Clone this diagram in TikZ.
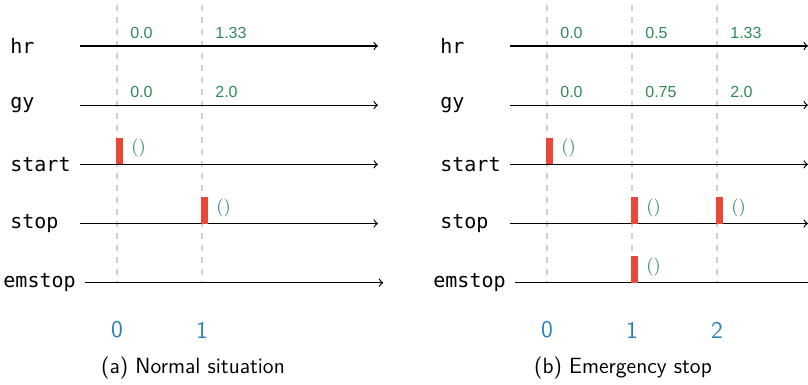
\documentclass[tikz,border=0pt]{standalone}
\usepackage{fontspec}
\setmonofont{DejaVu Sans Mono}
\newfontfamily\valfont{Liberation Sans}

\definecolor{evred}{RGB}{234,72,55}
\definecolor{valgreen}{RGB}{46,139,87}
\definecolor{tickblue}{RGB}{41,128,185}
\definecolor{gridgray}{RGB}{204,208,208}

\tikzset{
	sig/.style={font=\ttfamily, anchor=west, inner ysep=0pt, inner xsep=4.5pt},
	axis/.style={->, line width=0.6pt},
	instant/.style={draw=gridgray, dashed, line width=0.8pt},
	val/.style={font=\valfont\footnotesize, text=valgreen, anchor=west, inner sep=0pt},
	unitval/.style={font=\small, text=valgreen, anchor=west, inner sep=0pt},
	event/.style={fill=evred},
	tlabel/.style={font=\sffamily\large, text=tickblue},
	caption/.style={font=\sffamily\fontsize{11}{13}\selectfont}
}

\begin{document}
\begin{tikzpicture}
	\useasboundingbox (-2.056,0.808) rectangle (12.143,-5.957);

	% ---- (a) normal situation ----
	% Instants
	\foreach \t in {0,1}
		{
			\draw[instant] (1.494*\t, 0.72) -- (1.494*\t, -4.16);
			\node[tlabel] (at\t) at (1.494*\t, -4.99) {\t};
		}

	% Signals
	\foreach \s/\r in {hr/0, gy/1, start/2, stop/3}
	\node[sig, text width=1.054cm] (a\s) at (-2.039, -1.04*\r) {\s};
	\node[sig] (aemstop) at (-2.161, -4.16) {emstop};
	\foreach \s in {hr,gy,start,stop,emstop}
	\draw[axis] (a\s.east) -- ++(5.24,0);

	% Values
	\foreach \t/\v in {0/0.0, 1/1.33}
	\node[val] (ahr\t) at (1.494*\t+0.228, 0.228) {\v};
	\foreach \t/\v in {0/0.0, 1/2.0}
	\node[val] (agy\t) at (1.494*\t+0.228, -1.04+0.228) {\v};

	% Events
	\foreach \t/\r in {0/2, 1/3}
		{
			\fill[event] (1.494*\t-0.015, -1.04*\r) rectangle ++(0.125, 0.47);
			\node[unitval] (aev\t\r) at (1.494*\t+0.246, -1.04*\r+0.281) {()};
		}

	\node[caption] (capa) at (1.336, -5.66) {(a) Normal situation};

	% ---- (b) emergency stop ----
	\begin{scope}[xshift=7.556cm]
		% Instants
		\foreach \t in {0,1,2}
			{
				\draw[instant] (1.494*\t, 0.72) -- (1.494*\t, -4.16);
				\node[tlabel] (bt\t) at (1.494*\t, -4.99) {\t};
			}

		% Signals
		\foreach \s/\r in {hr/0, gy/1, start/2, stop/3}
		\node[sig, text width=1.054cm] (b\s) at (-2.039, -1.04*\r) {\s};
		\node[sig] (bemstop) at (-2.161, -4.16) {emstop};
		\foreach \s in {hr,gy,start,stop,emstop}
		\draw[axis] (b\s.east) -- ++(5.24,0);

		% Values
		\foreach \t/\v in {0/0.0, 1/0.5, 2/1.33}
		\node[val] (bhr\t) at (1.494*\t+0.228, 0.228) {\v};
		\foreach \t/\v in {0/0.0, 1/0.75, 2/2.0}
		\node[val] (bgy\t) at (1.494*\t+0.228, -1.04+0.228) {\v};

		% Events
		\foreach \t/\r in {0/2, 1/3, 2/3, 1/4}
			{
				\fill[event] (1.494*\t-0.015, -1.04*\r) rectangle ++(0.125, 0.47);
				\node[unitval] (bev\t\r) at (1.494*\t+0.246, -1.04*\r+0.281) {()};
			}

		\node[caption] (capb) at (1.336, -5.66) {(b) Emergency stop};
	\end{scope}
\end{tikzpicture}
\end{document}
